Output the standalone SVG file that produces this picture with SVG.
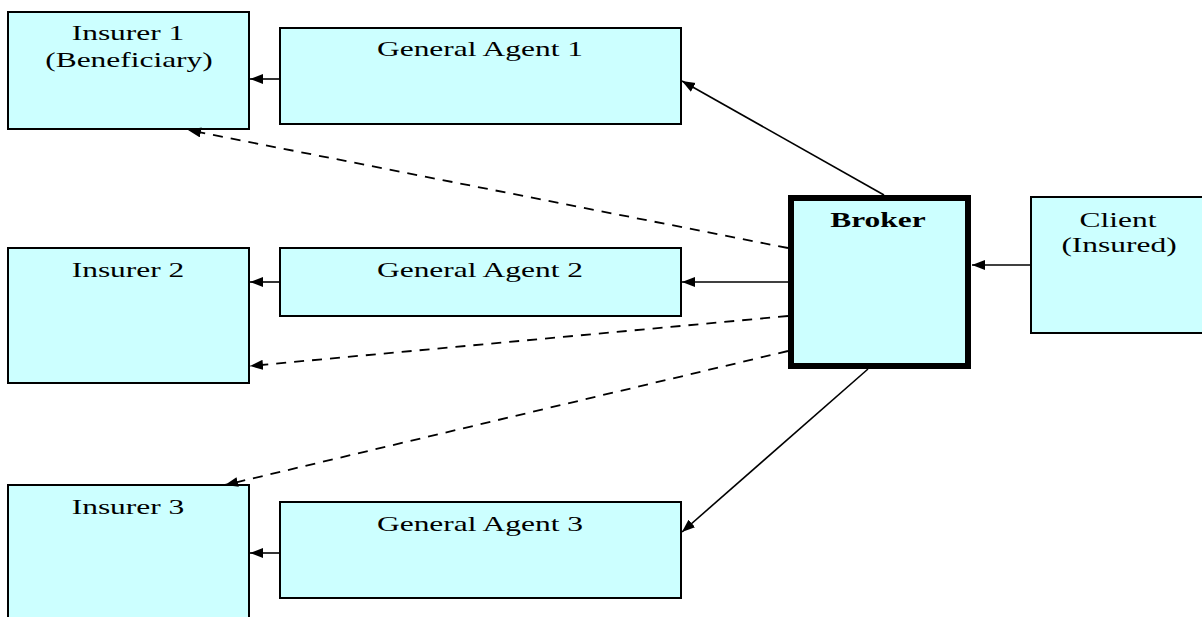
<svg xmlns="http://www.w3.org/2000/svg" width="1202" height="617" viewBox="0 0 1202 617">
<style>
.box{fill:#ccffff;stroke:#000;stroke-width:2}
.broker{fill:#ccffff;stroke:#000;stroke-width:6}
.t{font-family:"Liberation Serif","Times New Roman",serif;font-size:22px;fill:#000;text-anchor:middle}
.b{font-weight:bold}
.c{stroke:#000;stroke-width:1.6;fill:none;marker-end:url(#ah)}
.d{stroke-dasharray:10,8;stroke-width:1.8}
</style>
<defs>
<marker id="ah" markerUnits="userSpaceOnUse" markerWidth="14" markerHeight="11" refX="13" refY="5" orient="auto">
<path d="M0,0 L13,5 L0,10 z" fill="#000"/>
</marker>
</defs>
<rect width="1202" height="617" fill="#fff"/>
<g id="insurer1">
<rect class="box" x="8" y="12" width="241" height="117"/>
<text class="t" transform="translate(128,40) scale(1.43,1)">Insurer 1</text>
<text class="t" transform="translate(129,67) scale(1.43,1)">(Beneficiary)</text>
</g>
<g id="ga1">
<rect class="box" x="280" y="28" width="401" height="96"/>
<text class="t" transform="translate(480,56) scale(1.43,1)">General Agent 1</text>
</g>
<g id="insurer2">
<rect class="box" x="8" y="248" width="241" height="135"/>
<text class="t" transform="translate(128,277) scale(1.43,1)">Insurer 2</text>
</g>
<g id="ga2">
<rect class="box" x="280" y="248" width="401" height="68"/>
<text class="t" transform="translate(480,277) scale(1.43,1)">General Agent 2</text>
</g>
<g id="insurer3">
<rect class="box" x="8" y="485" width="241" height="150"/>
<text class="t" transform="translate(128,514) scale(1.43,1)">Insurer 3</text>
</g>
<g id="ga3">
<rect class="box" x="280" y="502" width="401" height="96"/>
<text class="t" transform="translate(480,531) scale(1.43,1)">General Agent 3</text>
</g>
<g id="broker">
<rect class="broker" x="791" y="198" width="177" height="168"/>
<text class="t b" transform="translate(878,227) scale(1.43,1)">Broker</text>
</g>
<g id="client">
<rect class="box" x="1031" y="197" width="176" height="136"/>
<text class="t" transform="translate(1118,227) scale(1.43,1)">Client</text>
<text class="t" transform="translate(1119,252) scale(1.43,1)">(Insured)</text>
</g>
<g id="connectors">
<line class="c" x1="280" y1="79" x2="250" y2="79"/>
<line class="c" x1="280" y1="282" x2="250" y2="282"/>
<line class="c" x1="280" y1="553" x2="250" y2="553"/>
<line class="c" x1="1031" y1="265" x2="972" y2="265"/>
<line class="c" x1="884" y1="195" x2="682" y2="81"/>
<line class="c" x1="788" y1="282" x2="682" y2="282"/>
<line class="c" x1="868" y1="369" x2="682" y2="532"/>
<line class="c d" x1="788" y1="248" x2="188" y2="130"/>
<line class="c d" x1="788" y1="316" x2="250" y2="366"/>
<line class="c d" x1="788" y1="351" x2="225" y2="485"/>
</g>
</svg>
